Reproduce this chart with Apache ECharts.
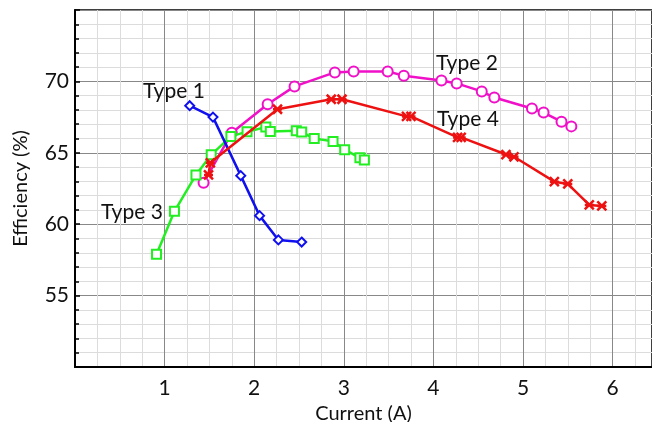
<!DOCTYPE html>
<html><head><meta charset="utf-8">
<script src="https://cdn.jsdelivr.net/npm/echarts@6/dist/echarts.min.js"></script>
<style>html,body{margin:0;padding:0;background:#fff}#c{width:652px;height:422px}</style>
</head><body><div id="c"></div>
<script>
const type1X = [1.28, 1.54, 1.85, 2.06, 2.27, 2.53];
const type1Y = [68.3, 67.5, 63.4, 60.6, 58.9, 58.75];
const type2X = [1.435, 1.75, 2.15, 2.45, 2.90, 3.11, 3.49, 3.67, 4.09, 4.26, 4.54, 4.68, 5.10, 5.23, 5.43, 5.54];
const type2Y = [62.9, 66.4, 68.4, 69.65, 70.63, 70.7, 70.7, 70.4, 70.07, 69.86, 69.3, 68.87, 68.1, 67.82, 67.18, 66.85];
const type3X = [0.91, 1.11, 1.35, 1.52, 1.74, 1.92, 2.13, 2.18, 2.47, 2.53, 2.67, 2.88, 3.01, 3.18, 3.23];
const type3Y = [57.9, 60.9, 63.45, 64.86, 66.15, 66.48, 66.8, 66.5, 66.55, 66.45, 66.0, 65.8, 65.22, 64.65, 64.5];
const type4X = [1.49, 1.51, 2.26, 2.86, 2.98, 3.70, 3.75, 4.27, 4.31, 4.81, 4.90, 5.35, 5.50, 5.74, 5.88];
const type4Y = [63.45, 64.3, 68.05, 68.75, 68.75, 67.55, 67.55, 66.08, 66.08, 64.88, 64.72, 62.98, 62.82, 61.35, 61.28];
const xTicks = [1, 2, 3, 4, 5, 6];
const yTicks = [55, 60, 65, 70];
const seriesNames = ['Type 1', 'Type 2', 'Type 3', 'Type 4'];

function pairs(xs, ys) { return xs.map((x, i) => [x, ys[i]]); }

const chart = echarts.init(document.getElementById('c'));
const font = 'Lato, "Open Sans", sans-serif';
const xMark = 'path://M0,0L10,10M10,0L0,10M0,5L10,5';
function lbl(text, x, y) {
  return { type: 'text', x: x, y: y, z: 100, zlevel: 0,
    style: { text: text, font: '21px ' + font, fill: '#111', verticalAlign: 'middle', align: 'left' } };
}
chart.setOption({
  animation: false,
  grid: { left: 75, top: 10, right: 0, bottom: 55, containLabel: false, outerBoundsMode: 'none',
    show: true, borderColor: '#000', borderWidth: 1.5, backgroundColor: 'transparent' },
  xAxis: {
    type: 'value', min: 0, max: 6.44, interval: 1,
    name: 'Current (A)', nameLocation: 'middle', nameGap: 27,
    nameTextStyle: { fontFamily: font, fontSize: 20, color: '#111' },
    axisLine: { show: true, lineStyle: { color: '#000', width: 2 } },
    axisTick: { show: false },
    minorTick: { show: false, splitNumber: 4 },
    axisLabel: { fontFamily: font, fontSize: 21, color: '#111', margin: 11,
      formatter: v => xTicks.includes(Math.round(v * 100) / 100) ? String(v) : '' },
    splitLine: { show: true, lineStyle: { color: '#888', width: 1 } },
    minorSplitLine: { show: true, lineStyle: { color: '#dcdcdc', width: 1 } }
  },
  yAxis: {
    type: 'value', min: 50, max: 75, interval: 5,
    name: 'Efficiency (%)', nameLocation: 'middle', nameGap: 44,
    nameTextStyle: { fontFamily: font, fontSize: 20, color: '#111' },
    axisLine: { show: true, lineStyle: { color: '#000', width: 2 } },
    axisTick: { show: true, inside: true, length: 5, lineStyle: { color: '#000', width: 1.5 } },
    minorTick: { show: true, splitNumber: 5, length: 4, lineStyle: { color: '#000', width: 1.5 } },
    axisLabel: { fontFamily: font, fontSize: 21, color: '#111', margin: 6,
      formatter: v => yTicks.includes(v) ? String(v) : '' },
    splitLine: { show: true, lineStyle: { color: '#888', width: 1 } },
    minorSplitLine: { show: true, lineStyle: { color: '#dcdcdc', width: 1 } }
  },
  series: [
    { name: seriesNames[0], type: 'line', data: pairs(type1X, type1Y), symbol: 'diamond', symbolSize: 9,
      lineStyle: { color: '#1010ee', width: 2.5 }, itemStyle: { color: '#fff', borderColor: '#1010ee', borderWidth: 2 }, z: 5 },
    { name: seriesNames[1], type: 'line', data: pairs(type2X, type2Y), symbol: 'circle', symbolSize: 10,
      lineStyle: { color: '#f010c8', width: 2.5 }, itemStyle: { color: '#fff', borderColor: '#f010c8', borderWidth: 2 }, z: 3 },
    { name: seriesNames[2], type: 'line', data: pairs(type3X, type3Y), symbol: 'rect', symbolSize: 9,
      lineStyle: { color: '#22ee22', width: 2.5 }, itemStyle: { color: '#fff', borderColor: '#22ee22', borderWidth: 2 }, z: 4 },
    { name: seriesNames[3], type: 'line', data: pairs(type4X, type4Y), symbol: xMark, symbolSize: 9,
      lineStyle: { color: '#ee1111', width: 2.5 }, itemStyle: { color: 'transparent', borderColor: '#ee1111', borderWidth: 2.5 }, z: 6 }
  ],
  graphic: [
    lbl(seriesNames[0], 143, 91),
    lbl(seriesNames[1], 436, 63),
    lbl(seriesNames[2], 101, 212),
    lbl(seriesNames[3], 437, 119)
  ]
});
</script></body></html>
